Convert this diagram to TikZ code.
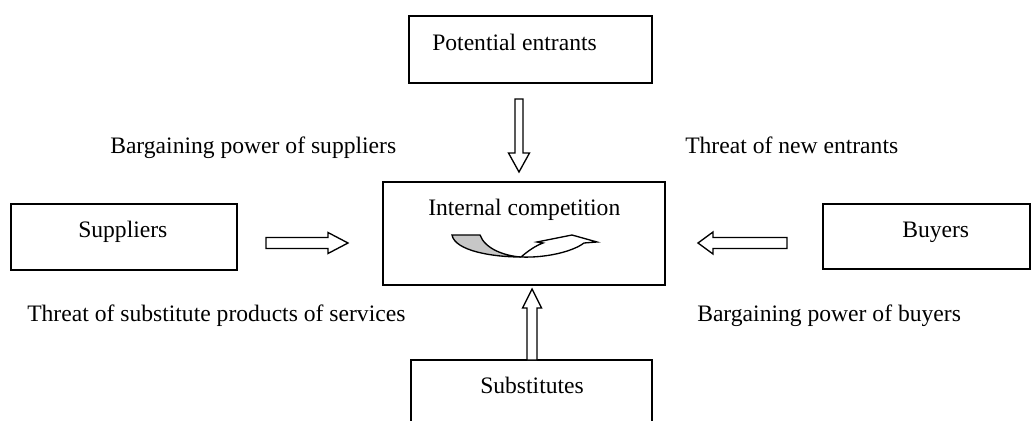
\documentclass[tikz,border=0pt]{standalone}
\usepackage{fontspec}
\setmainfont{Liberation Serif}
\usetikzlibrary{fit}
\begin{document}
\begin{tikzpicture}[x=0.75pt,y=-0.75pt,
  box/.style={draw, line width=1.1pt, inner sep=0pt, outer sep=0pt},
  lbl/.style={anchor=base west, inner sep=0pt, font=\fontsize{17.7}{20}\selectfont},
  blockarrow/.style={draw, line width=1pt, fill=white, line join=miter},
  curvegray/.style={draw, line width=1pt, fill=black!22},
  curvewhite/.style={draw, line width=1pt, fill=white}]
\useasboundingbox (0,0) rectangle (1035,421);
% boxes
\node[box, fit={(409,16) (652,83)}] (pe) {};
\node[box, fit={(383,182) (665,285)}] (ic) {};
\node[box, fit={(11,204) (237,270)}] (sup) {};
\node[box, fit={(823,204) (1030,269)}] (buy) {};
\node[box, fit={(411,360) (652,440)}] (sub) {};
% box texts
\node[lbl] (tpe) at (432,50) {Potential entrants};
\node[lbl] (tic) at (428,215) {Internal competition};
\node[lbl] (tsup) at (78,237) {Suppliers};
\node[lbl] (tbuy) at (902,237) {Buyers};
\node[lbl] (tsub) at (480,393) {Substitutes};
% force labels
\node[lbl] (l1) at (110,153) {Bargaining power of suppliers};
\node[lbl] (l2) at (685,153) {Threat of new entrants};
\node[lbl] (l3) at (27,321) {Threat of substitute products of services};
\node[lbl] (l4) at (697,321) {Bargaining power of buyers};
% block arrows
\draw[blockarrow] (515,99) -- (523,99) -- (523,153) -- (529.5,153) -- (519,172) -- (508.5,153) -- (515,153) -- cycle;
\draw[blockarrow] (527,360) -- (537,360) -- (537,308) -- (541.5,308) -- (532,289) -- (522.5,308) -- (527,308) -- cycle;
\draw[blockarrow] (266,237.5) -- (328,237.5) -- (328,232.5) -- (348,243) -- (328,253.5) -- (328,248.5) -- (266,248.5) -- cycle;
\draw[blockarrow] (787,237.5) -- (713,237.5) -- (713,232) -- (698,243) -- (713,254) -- (713,248.5) -- (787,248.5) -- cycle;
% curved arrow inside internal competition
\draw[curvegray] (452,235) -- (480,235) .. controls (485,249) and (505,256) .. (521,257) .. controls (493,257) and (455,251) .. (452,235) -- cycle;
\draw[curvewhite] (521,257) .. controls (528,251) and (535,246) .. (543,243) -- (537,242) -- (572,235) -- (597,242) -- (584,243) .. controls (572,252) and (545,258) .. (521,257) -- cycle;
\end{tikzpicture}
\end{document}
